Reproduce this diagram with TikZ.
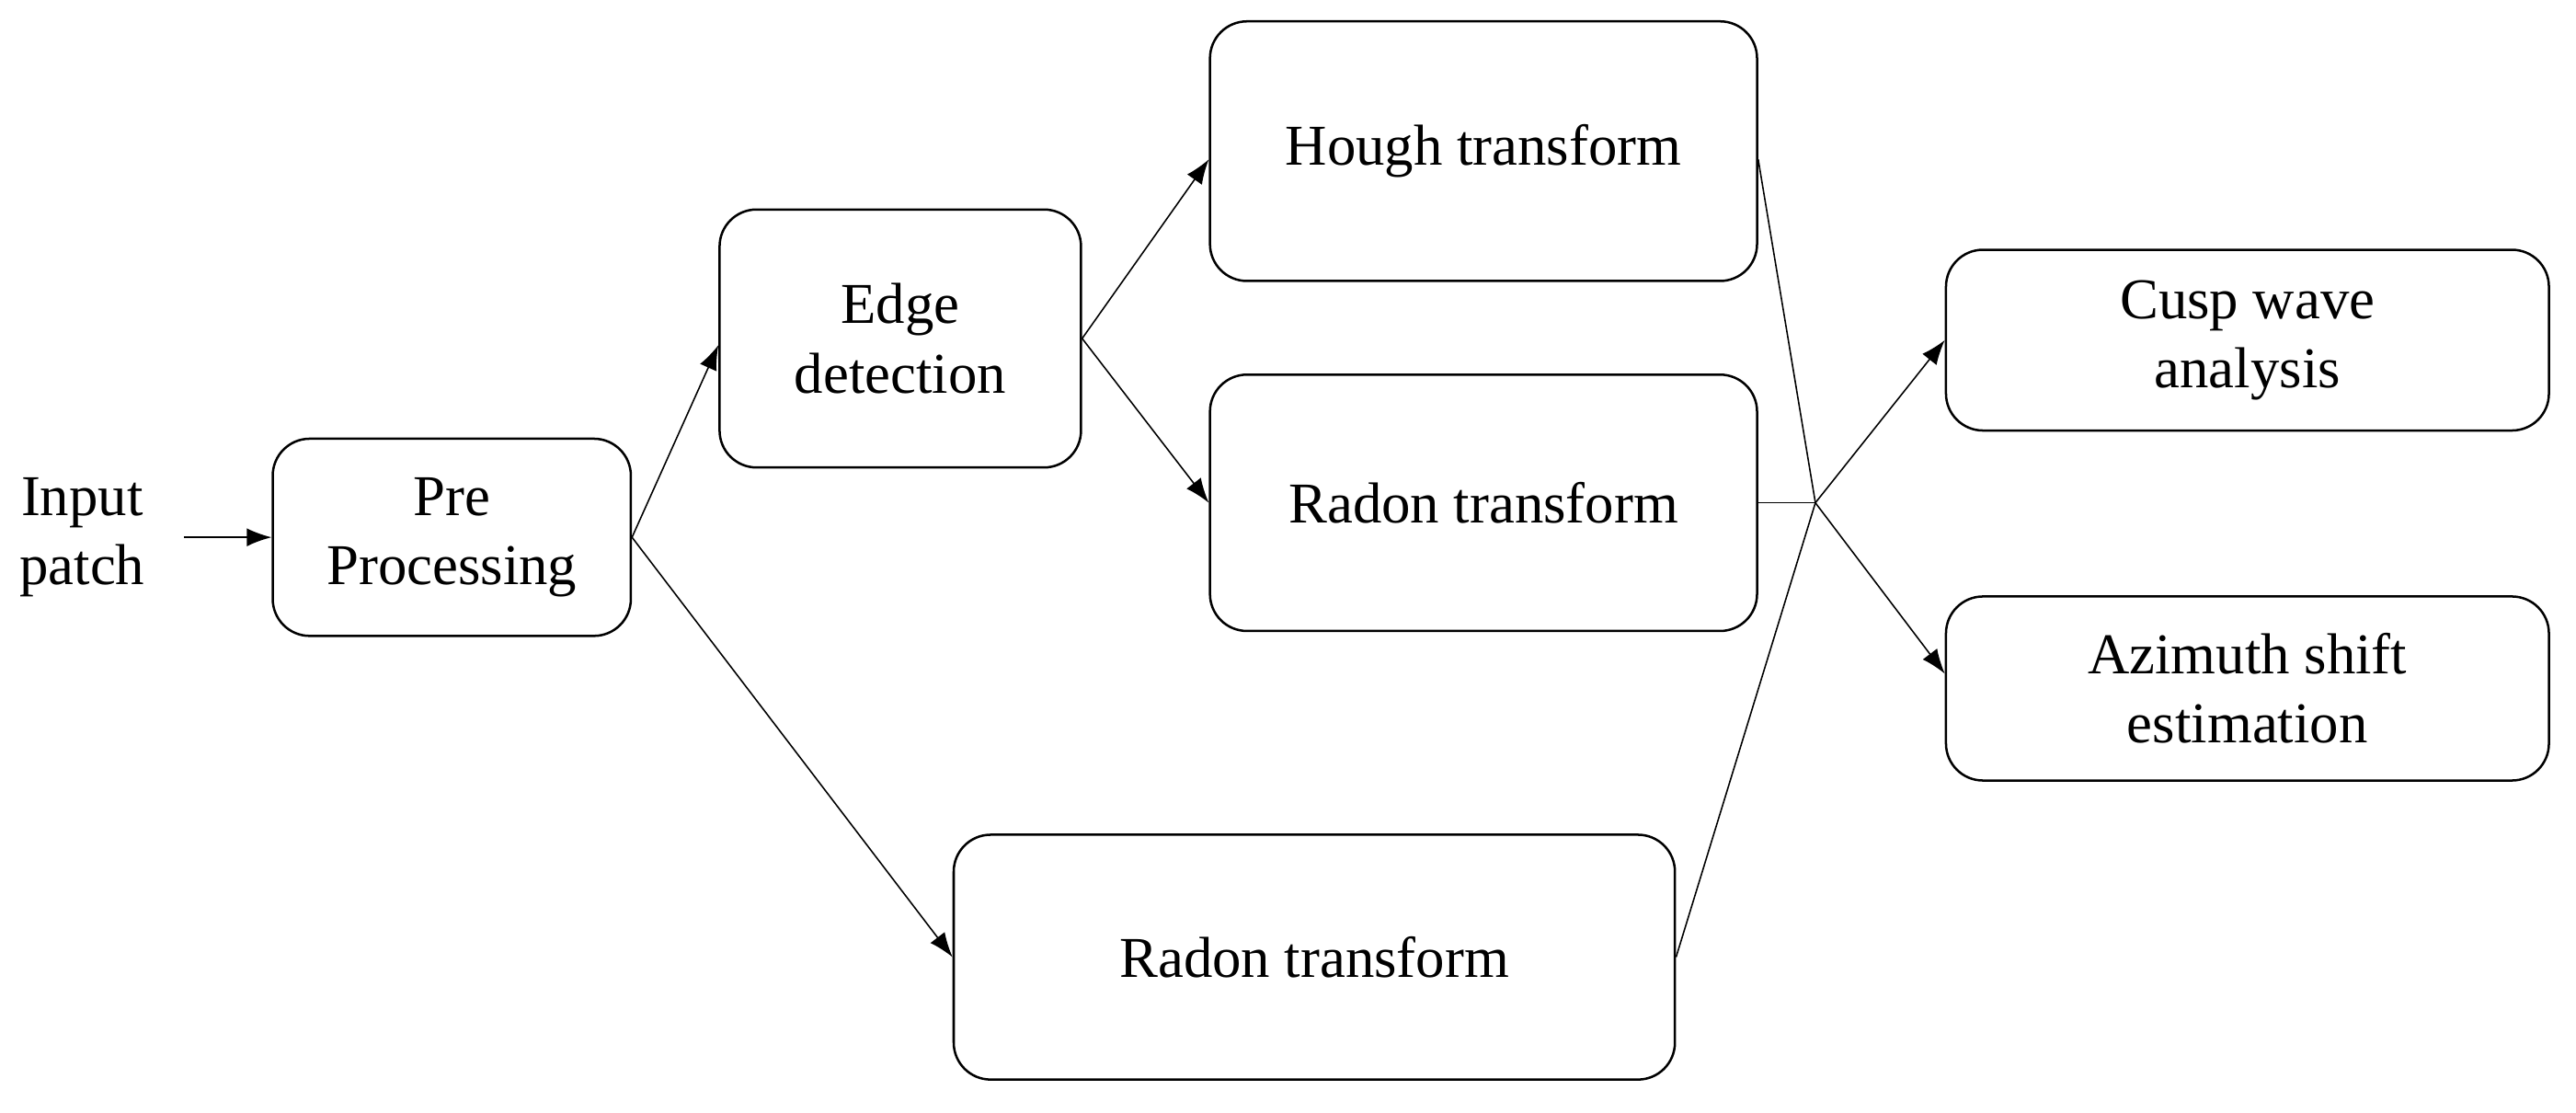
\documentclass[tikz,border=0pt]{standalone}
\usepackage{fontspec}
\setmainfont{Liberation Serif}
\usetikzlibrary{positioning,arrows.meta}

\begin{document}
\begin{tikzpicture}[
  box/.style={rectangle, draw, rounded corners=0.45cm, align=center, font=\fontsize{20}{24}\selectfont, line width=0.8pt},
  arr/.style={-{Latex[length=0.3cm,width=0.22cm]}, line width=0.5pt}
]
\useasboundingbox (0,0) rectangle (31.36,-13.54);

% Stages
\node[font=\fontsize{20}{24}\selectfont, align=center] (inp) at (1.0,-6.54) {Input\\patch};
\node[box, minimum width=4.36cm, minimum height=2.4cm] (pre) at (5.5,-6.54) {Pre\\Processing};
\node[box, minimum width=4.4cm, minimum height=3.14cm] (edge) at (10.96,-4.12) {Edge\\detection};
\node[box, minimum width=6.66cm, minimum height=3.16cm] (hough) at (18.06,-1.84) {Hough transform};
\node[box, minimum width=6.66cm, minimum height=3.12cm] (radA) at (18.06,-6.12) {Radon transform};
\node[box, minimum width=8.78cm, minimum height=2.98cm] (radB) at (16.0,-11.65) {Radon transform};
\node[box, minimum width=7.34cm, minimum height=2.2cm] (cusp) at (27.36,-4.14) {Cusp wave\\analysis};
\node[box, minimum width=7.34cm, minimum height=2.24cm] (azim) at (27.36,-8.38) {Azimuth shift\\estimation};

\coordinate (junc) at (22.1,-6.12);

% Connectors
\draw[arr] (2.24,-6.54) -- (pre.west);
\draw[arr] (pre.east) -- (edge.west |- 0,-4.2);
\draw[arr] (pre.east) -- (radB.west);
\draw[arr] (edge.east) -- (hough.west |- 0,-1.94);
\draw[arr] (edge.east) -- (radA.west);
\draw[line width=0.5pt] (hough.east |- 0,-1.94) -- (junc);
\draw[line width=0.5pt] (radA.east) -- (junc);
\draw[line width=0.5pt] (radB.east) -- (junc);
\draw[arr] (junc) -- (cusp.west);
\draw[arr] (junc) -- (azim.west |- 0,-8.2);

\end{tikzpicture}
\end{document}
